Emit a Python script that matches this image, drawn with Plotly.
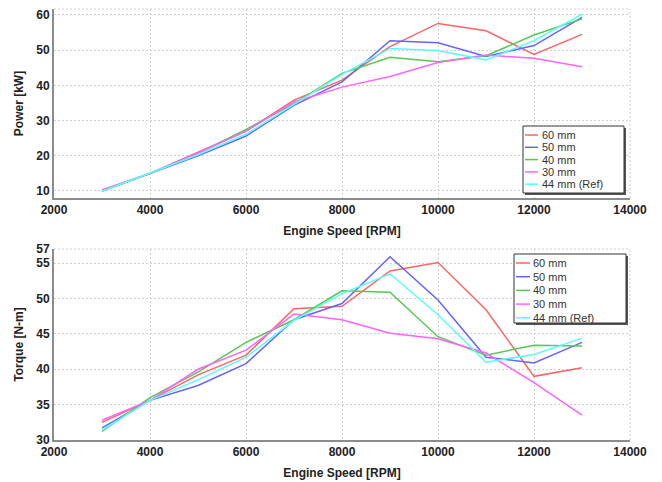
import plotly.graph_objects as go
from plotly.subplots import make_subplots

rpm = [3000, 4000, 5000, 6000, 7000, 8000, 9000, 10000, 11000, 12000, 13000]
series_names = ["60 mm", "50 mm", "40 mm", "30 mm", "44 mm (Ref)"]
series_colors = ["#ff6464", "#6464ff", "#55c855", "#ff64ff", "#55ffff"]

# мощность [kW]
power_60 = [10.3, 15.0, 21.0, 27.0, 35.8, 41.5, 51.0, 57.6, 55.5, 48.8, 54.5]
power_50 = [10.0, 15.0, 20.0, 25.6, 34.3, 41.0, 52.7, 52.1, 48.2, 51.3, 59.3]
power_40 = [10.0, 15.0, 20.7, 27.5, 34.8, 43.4, 48.0, 46.7, 48.4, 54.3, 58.9]
power_30 = [10.2, 15.0, 20.8, 27.0, 35.3, 39.5, 42.5, 46.5, 48.6, 47.7, 45.3]
power_44 = [9.9, 15.0, 20.3, 26.1, 34.5, 43.1, 50.5, 49.9, 47.2, 52.7, 60.2]

# крутящий момент [N-m]
torque_60 = [32.5, 35.6, 39.2, 42.0, 48.55, 48.9, 53.9, 55.1, 48.4, 39.0, 40.2]
torque_50 = [31.7, 35.6, 37.7, 40.8, 47.0, 49.3, 55.9, 49.8, 41.7, 40.9, 43.8]
torque_40 = [31.2, 36.0, 39.6, 43.8, 47.0, 51.1, 50.9, 44.6, 42.0, 43.4, 43.3]
torque_30 = [32.8, 35.6, 40.0, 42.7, 47.8, 47.0, 45.1, 44.3, 42.3, 38.1, 33.5]
torque_44 = [31.4, 35.6, 38.5, 41.7, 46.9, 50.7, 53.5, 47.7, 41.0, 42.1, 44.4]

x_ticks = [2000, 4000, 6000, 8000, 10000, 12000, 14000]
power_ticks = [10, 20, 30, 40, 50, 60]
torque_ticks = [30, 35, 40, 45, 50, 55, 57]

power = [power_60, power_50, power_40, power_30, power_44]
torque = [torque_60, torque_50, torque_40, torque_30, torque_44]

# страница сдвигает фигуру на 8px (отступ body)
OFF = 8
W, H = 662 - OFF, 482 - OFF
ML, MR, MT, MB = 46, 32, 1, 42


def px(x):
    return (x - OFF - ML) / (W - ML - MR)


def py(y):
    return (H - MB - (y - OFF)) / (H - MT - MB)


fig = make_subplots(rows=2, cols=1, vertical_spacing=0.1)

for name, color, p, t in zip(series_names, series_colors, power, torque):
    fig.add_trace(go.Scatter(x=rpm, y=p, mode="lines", name=name,
                             line=dict(color=color, width=1.5), showlegend=False), row=1, col=1)
    fig.add_trace(go.Scatter(x=rpm, y=t, mode="lines", name=name,
                             line=dict(color=color, width=1.5), showlegend=False), row=2, col=1)

tick_font = dict(family="Liberation Sans, Arial", size=12, color="#222", weight="bold")
title_font = dict(family="Liberation Sans, Arial", size=12, color="#222", weight="bold")
axis_common = dict(showline=True, linecolor="#8c8c8c", linewidth=2, automargin=False,
                   showgrid=True, gridcolor="#cfcfcf", griddash="2px,2px", gridwidth=1,
                   zeroline=False, tickfont=tick_font, ticks="")

fig.update_xaxes(range=[2000, 14000], tickvals=x_ticks, ticktext=[str(v) for v in x_ticks],
                 title=dict(text="Engine Speed [RPM]", font=title_font, standoff=10), **axis_common)
fig.update_yaxes(**axis_common)
fig.update_yaxes(range=[8, 61.7], tickvals=power_ticks, row=1, col=1,
                 title=dict(text="Power [kW]", font=title_font, standoff=10))
fig.update_yaxes(range=[30, 57], tickvals=torque_ticks, row=2, col=1,
                 title=dict(text="Torque [N-m]", font=title_font, standoff=10))

fig.update_layout(
    yaxis=dict(domain=[py(198), 1.0]),
    yaxis2=dict(domain=[0.0, py(249)]),
)

shapes = []
annotations = []
# пунктирная рамка сверху и справа
for y0, y1 in [(py(198), 1.0), (0.0, py(249))]:
    shapes.append(dict(type="line", xref="paper", yref="paper", x0=0, x1=1, y0=y1, y1=y1,
                       line=dict(color="#cfcfcf", width=1, dash="2px,2px"), layer="below"))
    shapes.append(dict(type="line", xref="paper", yref="paper", x0=1, x1=1, y0=y0, y1=y1,
                       line=dict(color="#cfcfcf", width=1, dash="2px,2px"), layer="below"))

# легенды (рамка с тенью)
legends = [
    dict(box=(523, 126, 624, 193), first=135, step=12.3, lx=(525, 538), tx=540),
    dict(box=(514, 254, 626, 323), first=263, step=13.7, lx=(516, 530), tx=531),
]
for lg in legends:
    x0, y0, x1, y1 = lg["box"]
    shapes.append(dict(type="rect", xref="paper", yref="paper", x0=px(x0 + 2), x1=px(x1 + 2),
                       y0=py(y0 + 2), y1=py(y1 + 2), line=dict(width=0), fillcolor="#555"))
    shapes.append(dict(type="rect", xref="paper", yref="paper", x0=px(x0), x1=px(x1),
                       y0=py(y0), y1=py(y1), line=dict(color="#333", width=1), fillcolor="white"))
    for i, (name, color) in enumerate(zip(series_names, series_colors)):
        yy = lg["first"] + i * lg["step"]
        shapes.append(dict(type="line", xref="paper", yref="paper", x0=px(lg["lx"][0]), x1=px(lg["lx"][1]),
                           y0=py(yy), y1=py(yy), line=dict(color=color, width=1.5)))
        annotations.append(dict(text=name, xref="paper", yref="paper", x=px(lg["tx"]), y=py(yy),
                                xanchor="left", yanchor="middle", showarrow=False,
                                font=dict(family="Liberation Sans, Arial", size=11, color="#333")))

fig.update_layout(
    width=W, height=H,
    margin=dict(l=ML, r=MR, t=MT, b=MB),
    paper_bgcolor="white", plot_bgcolor="white",
    shapes=shapes, annotations=annotations,
    showlegend=False,
)

fig.write_html("out.html")
